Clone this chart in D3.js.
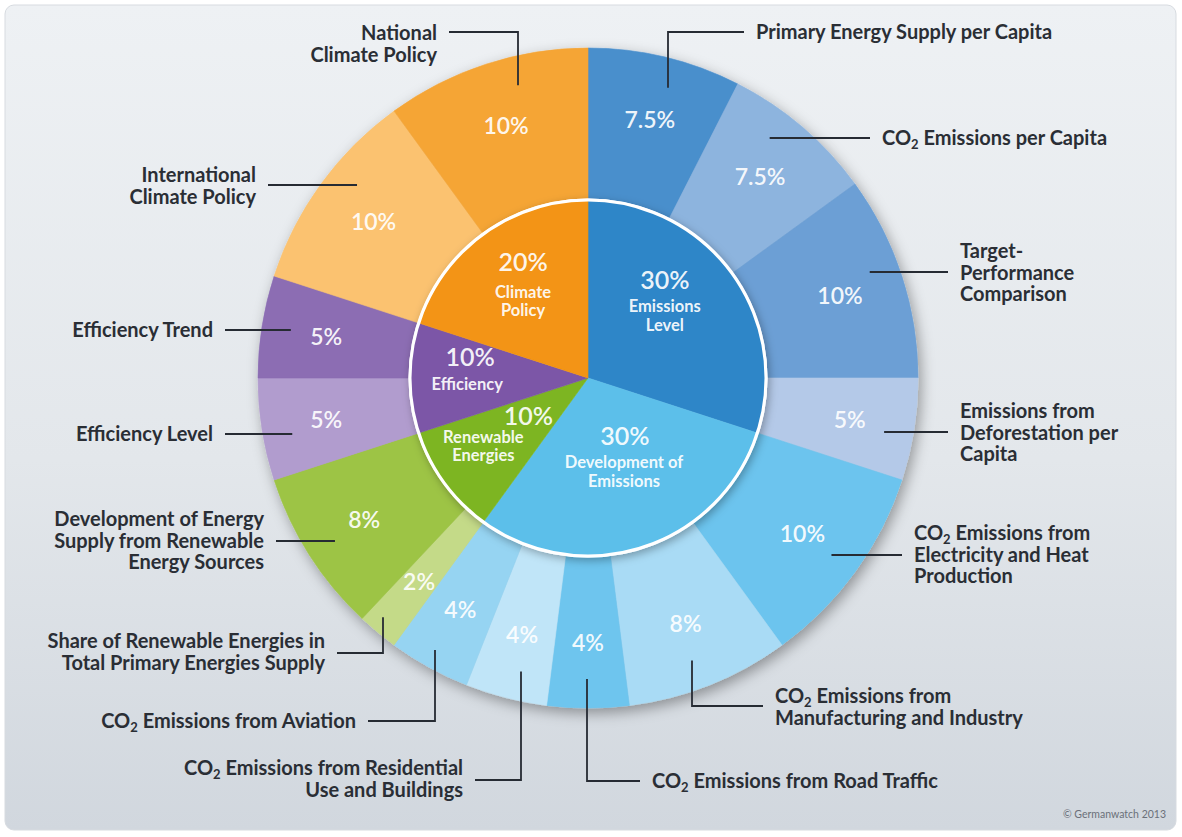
<!DOCTYPE html>
<html>
<head>
<meta charset="utf-8">
<script src="https://cdn.jsdelivr.net/npm/d3@7"></script>
<style>
    html, body { margin: 0; padding: 0; background: #ffffff; }
    svg { display: block; font-family: 'Lato', 'Open Sans', sans-serif; }
</style>
</head>
<body>
<div id="chart"></div>
<script>
// --- data ---
var categories = ['Emissions Level', 'Development of Emissions', 'Renewable Energies', 'Efficiency', 'Climate Policy'];
var category_weights = [30, 30, 10, 10, 20];
var category_lines = [['Emissions', 'Level'], ['Development of', 'Emissions'], ['Renewable', 'Energies'], ['Efficiency'], ['Climate', 'Policy']];

var indicators = [
    'Primary Energy Supply per Capita',
    'CO2 Emissions per Capita',
    'Target-|Performance|Comparison',
    'Emissions from|Deforestation per|Capita',
    'CO2 Emissions from|Electricity and Heat|Production',
    'CO2 Emissions from|Manufacturing and Industry',
    'CO2 Emissions from Road Traffic',
    'CO2 Emissions from Residential|Use and Buildings',
    'CO2 Emissions from Aviation',
    'Share of Renewable Energies in|Total Primary Energies Supply',
    'Development of Energy|Supply from Renewable|Energy Sources',
    'Efficiency Level',
    'Efficiency Trend',
    'International|Climate Policy',
    'National|Climate Policy'
];
var indicator_weights = [7.5, 7.5, 10, 5, 10, 8, 4, 4, 4, 2, 8, 5, 5, 10, 10];

// --- styles ---
var category_colors = ['#2f86c8', '#5cbfea', '#7db520', '#7b56a7', '#f39412'];
var indicator_colors = ['#4a8fcc', '#8db4de', '#6c9fd5', '#b4c9e8',
                        '#6cc4ee', '#a9dbf5', '#6ec5ee', '#c0e5f8', '#96d4f2',
                        '#c4da88', '#9dc444',
                        '#b19cce', '#8c6db3',
                        '#fbc26f', '#f5a536'];

// label placement (text anchor, first line centre, leader row, leader kind)
var label_layout = [
    {anchor: 'start', x: 756, y: 32, kind: 'v', vx: 668},
    {anchor: 'start', x: 882, y: 138, kind: 'h'},
    {anchor: 'start', x: 960, y: 251, ly: 272, kind: 'h'},
    {anchor: 'start', x: 960, y: 411, ly: 432, kind: 'h'},
    {anchor: 'start', x: 914, y: 533, ly: 555, kind: 'h'},
    {anchor: 'start', x: 775, y: 696, ly: 706, kind: 'v', vx: 692},
    {anchor: 'start', x: 652, y: 781, kind: 'v', vx: 587},
    {anchor: 'end', x: 463, y: 768, ly: 780, kind: 'v', vx: 521},
    {anchor: 'end', x: 356, y: 721, kind: 'v', vx: 435, lr: 312},
    {anchor: 'end', x: 325, y: 641, ly: 653, kind: 'v', vx: 383, lr: 315},
    {anchor: 'end', x: 264, y: 519, ly: 541, kind: 'h'},
    {anchor: 'end', x: 213, y: 434, kind: 'h'},
    {anchor: 'end', x: 213, y: 330, kind: 'h'},
    {anchor: 'end', x: 256, y: 175, ly: 185, kind: 'h'},
    {anchor: 'end', x: 437, y: 33, ly: 32, kind: 'v', vx: 518}
];
// inner label placement: polar position of name block, offset of percent
var inner_layout = [
    {a: 47, r: 105, pdx: 0, pdy: -26},
    {a: 157, r: 92, pdx: 1, pdy: -26},
    {a: 240.7, r: 120, pdx: 45, pdy: -20},
    {a: 267, r: 121, pdx: 3, pdy: -27},
    {a: 323, r: 108, pdx: 0, pdy: -29}
];

var width = 1182, height = 837;
var cx = 588, cy = 378;
var r_outer = 330, r_ring_in = 176, r_inner = 178, r_pct = 265, r_leader = 301;

var svg = d3.select('#chart').append('svg')
    .attr('width', width)
    .attr('height', height);

let defs = svg.append('defs');
let bg = defs.append('linearGradient').attr('id', 'bg').attr('x1', 0).attr('y1', 0).attr('x2', 0).attr('y2', 1);
bg.append('stop').attr('offset', '0%').attr('stop-color', '#eef1f4');
bg.append('stop').attr('offset', '55%').attr('stop-color', '#e3e7eb');
bg.append('stop').attr('offset', '100%').attr('stop-color', '#d1d7de');

let sh = defs.append('filter').attr('id', 'shadow')
    .attr('x', '-20%').attr('y', '-20%').attr('width', '140%').attr('height', '140%');
sh.append('feDropShadow').attr('dx', 3).attr('dy', 5).attr('stdDeviation', 7)
    .attr('flood-color', '#000').attr('flood-opacity', 0.35);

let sh2 = defs.append('filter').attr('id', 'shadow2')
    .attr('x', '-20%').attr('y', '-20%').attr('width', '140%').attr('height', '140%');
sh2.append('feDropShadow').attr('dx', 2).attr('dy', 3).attr('stdDeviation', 4)
    .attr('flood-color', '#000').attr('flood-opacity', 0.3);

// background panel
svg.append('rect')
    .attr('x', 5).attr('y', 5)
    .attr('width', width - 11).attr('height', height - 12)
    .attr('rx', 9).attr('ry', 9)
    .attr('fill', 'url(#bg)')
    .attr('stroke', '#d7dbe0').attr('stroke-width', 1);

var g = svg.append('g').attr('transform', 'translate(' + cx + ',' + cy + ')');

var pie = d3.pie().sort(null).value(function(d) { return d; })
    .startAngle(0).endAngle(2 * Math.PI);

var outer_arcs = pie(indicator_weights);
var inner_arcs = pie(category_weights);

var arc_outer = d3.arc().innerRadius(r_ring_in).outerRadius(r_outer);
var arc_inner = d3.arc().innerRadius(0).outerRadius(r_inner);
var arc_pct = d3.arc().innerRadius(r_pct).outerRadius(r_pct);

// outer ring
let ring = g.append('g').attr('filter', 'url(#shadow)');
ring.selectAll('path.outer')
    .data(outer_arcs)
    .enter().append('path')
    .attr('class', 'outer')
    .attr('d', arc_outer)
    .attr('fill', function(d, i) { return indicator_colors[i]; })
    .attr('stroke', function(d, i) { return indicator_colors[i]; })
    .attr('stroke-width', 0.6);

// inner pie
let core = g.append('g').attr('filter', 'url(#shadow2)');
core.append('circle').attr('r', r_inner + 1.5).attr('fill', '#ffffff');
core.selectAll('path.inner')
    .data(inner_arcs)
    .enter().append('path')
    .attr('class', 'inner')
    .attr('d', arc_inner)
    .attr('fill', function(d, i) { return category_colors[i]; })
    .attr('stroke', function(d, i) { return category_colors[i]; })
    .attr('stroke-width', 0.6);
core.append('circle').attr('r', r_inner).attr('fill', 'none')
    .attr('stroke', '#ffffff').attr('stroke-width', 3);

// outer percentages
g.selectAll('text.pct')
    .data(outer_arcs)
    .enter().append('text')
    .attr('class', 'pct')
    .attr('transform', function(d) { return 'translate(' + arc_pct.centroid(d) + ')'; })
    .attr('text-anchor', 'middle')
    .attr('dy', '0.35em')
    .attr('fill', '#ffffff')
    .attr('fill-opacity', 0.93)
    .style('font-size', '23px')
    .style('font-weight', 600)
    .text(function(d) { return d.data + '%'; });

// inner labels (percent + name in one text block)
inner_arcs.forEach(function(d, i) {
    let L = inner_layout[i];
    let a = L.a * Math.PI / 180;
    let x = L.r * Math.sin(a), y = -L.r * Math.cos(a);
    let t = g.append('text')
        .attr('text-anchor', 'middle')
        .attr('fill', '#ffffff').attr('fill-opacity', 0.93);
    t.append('tspan')
        .attr('x', x + L.pdx).attr('y', y + L.pdy + 8.5)
        .style('font-size', '25px').style('font-weight', 600)
        .text(d.data + '%');
    category_lines[i].forEach(function(line, k) {
        t.append('tspan')
            .attr('x', x).attr('y', y + k * 18.5 + 5.8)
            .style('font-size', '16.5px').style('font-weight', 700)
            .text(line);
    });
});

// outer labels with leaders
var labels = svg.append('g');
var line_h = 21.5;

function add_line(text_sel, str, x, y) {
    let first = text_sel.append('tspan').attr('x', x).attr('y', y);
    let parts = str.split('CO2');
    parts.forEach(function(p, k) {
        if (k > 0) {
            first.text('CO');
            text_sel.append('tspan').attr('dy', 4).style('font-size', '13px').text('2');
            text_sel.append('tspan').attr('dy', -4).text(p);
        } else if (p.length) {
            first.text(p);
        }
    });
}

indicators.forEach(function(name, i) {
    let L = label_layout[i];
    let lines = name.split('|');
    let ly = (L.ly !== undefined) ? L.ly : L.y;
    let lr = L.lr || r_leader;
    let gap = 12;
    let end_x = (L.anchor === 'start') ? L.x - gap : L.x + gap;
    let pts;
    if (L.kind === 'h') {
        let dy = ly - cy;
        let side = (L.anchor === 'start') ? 1 : -1;
        let sx = cx + side * Math.sqrt(lr * lr - dy * dy);
        pts = [[sx, ly], [end_x, ly]];
    } else {
        let dx = L.vx - cx;
        let side = (ly < cy) ? -1 : 1;
        let sy = cy + side * Math.sqrt(lr * lr - dx * dx);
        pts = [[L.vx, sy], [L.vx, ly], [end_x, ly]];
    }
    labels.append('path')
        .attr('d', d3.line()(pts))
        .attr('fill', 'none')
        .attr('stroke', '#262b33')
        .attr('stroke-width', 1.8);

    let t = labels.append('text')
        .attr('text-anchor', L.anchor)
        .attr('fill', '#2a2e35')
        .style('font-size', '20px')
        .style('font-weight', 700);
    lines.forEach(function(line, k) {
        add_line(t, line, L.x, L.y + k * line_h + 7);
    });
});

svg.append('text')
    .attr('x', 1166).attr('y', 818)
    .attr('text-anchor', 'end')
    .attr('fill', '#6b7079')
    .style('font-size', '10.5px')
    .text('\u00a9 Germanwatch 2013');
</script>
</body>
</html>
